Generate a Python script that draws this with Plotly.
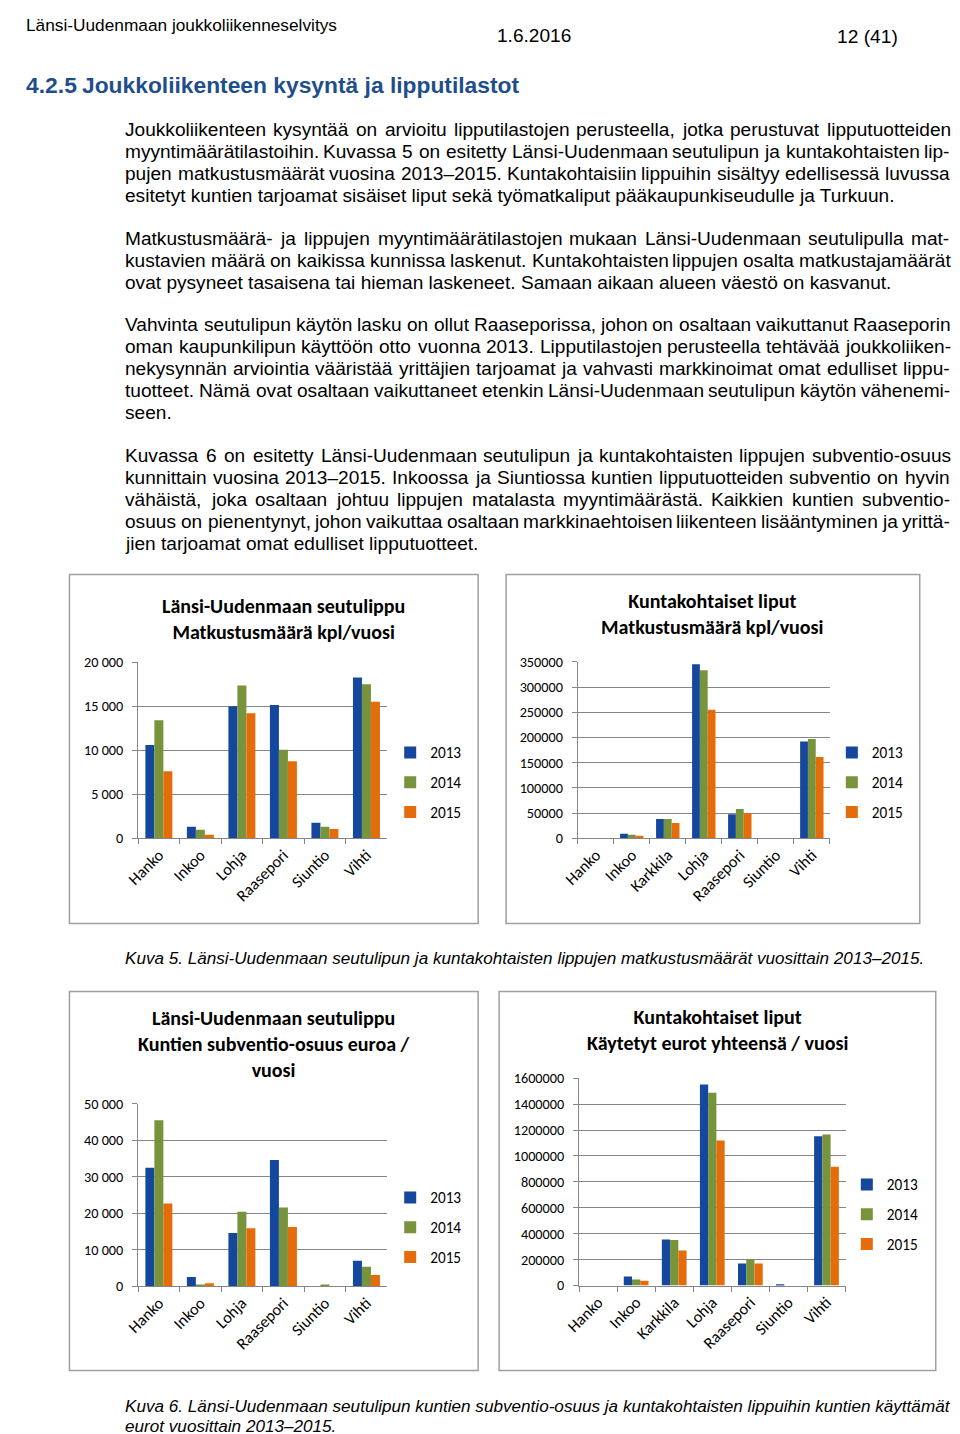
import plotly.graph_objects as go

# The photographed page comes out slightly scaled and offset relative to the
# figure pixels; positions below are in reference-page pixels and get mapped.
SX, SY = 0.984, 0.9875
OX, OY = 23.5, 16.5
W, H = 952, 1440
TXT_PAD = 3  # annotation box padding before the first glyph

# ---- data -------------------------------------------------------------
years = ["2013", "2014", "2015"]
kunnat6 = ["Hanko", "Inkoo", "Lohja", "Raasepori", "Siuntio", "Vihti"]
kunnat7 = ["Hanko", "Inkoo", "Karkkila", "Lohja", "Raasepori", "Siuntio", "Vihti"]

# Länsi-Uudenmaan seutulippu, matkustusmäärä kpl/vuosi
seutu_matkat_2013 = [10600, 1300, 15000, 15150, 1750, 18250]
seutu_matkat_2014 = [13400, 950, 17350, 10050, 1300, 17500]
seutu_matkat_2015 = [7600, 400, 14200, 8750, 1050, 15500]

# Kuntakohtaiset liput, matkustusmäärä kpl/vuosi
kunta_matkat_2013 = [0, 9000, 38000, 345000, 47500, 0, 192000]
kunta_matkat_2014 = [0, 7000, 38000, 333000, 58000, 0, 197000]
kunta_matkat_2015 = [0, 5000, 30000, 255000, 49500, 0, 161000]

# Länsi-Uudenmaan seutulippu, kuntien subventio-osuus euroa / vuosi
subventio_2013 = [32500, 2500, 14600, 34600, 0, 7000]
subventio_2014 = [45500, 500, 20400, 21600, 450, 5300]
subventio_2015 = [22700, 800, 15900, 16200, 0, 3100]

# Kuntakohtaiset liput, käytetyt eurot yhteensä / vuosi
eurot_2013 = [0, 70000, 355000, 1551000, 170000, 3000, 1152000]
eurot_2014 = [0, 46000, 352000, 1487000, 203000, 0, 1165000]
eurot_2015 = [0, 36000, 270000, 1119000, 170000, 0, 916000]

colors = ["#15479c", "#77933c", "#e46c0a"]

# ---- page text ----------------------------------------------------------
paragraphs = [
    (129, [
        "Joukkoliikenteen kysyntää on arvioitu lipputilastojen perusteella, jotka perustuvat lipputuotteiden",
        "myyntimäärätilastoihin. Kuvassa 5 on esitetty Länsi-Uudenmaan seutulipun ja kuntakohtaisten lip-",
        "pujen matkustusmäärät vuosina 2013–2015. Kuntakohtaisiin lippuihin sisältyy edellisessä luvussa",
        "esitetyt kuntien tarjoamat sisäiset liput sekä työmatkaliput pääkaupunkiseudulle ja Turkuun.",
    ]),
    (238, [
        "Matkustusmäärä- ja lippujen myyntimäärätilastojen mukaan Länsi-Uudenmaan seutulipulla mat-",
        "kustavien määrä on kaikissa kunnissa laskenut. Kuntakohtaisten lippujen osalta matkustajamäärät",
        "ovat pysyneet tasaisena tai hieman laskeneet. Samaan aikaan alueen väestö on kasvanut.",
    ]),
    (324, [
        "Vahvinta seutulipun käytön lasku on ollut Raaseporissa, johon on osaltaan vaikuttanut Raaseporin",
        "oman kaupunkilipun käyttöön otto vuonna 2013. Lipputilastojen perusteella tehtävää joukkoliiken-",
        "nekysynnän arviointia vääristää yrittäjien tarjoamat ja vahvasti markkinoimat omat edulliset lippu-",
        "tuotteet. Nämä ovat osaltaan vaikuttaneet etenkin Länsi-Uudenmaan seutulipun käytön vähenemi-",
        "seen.",
    ]),
    (455, [
        "Kuvassa 6 on esitetty Länsi-Uudenmaan seutulipun ja kuntakohtaisten lippujen subventio-osuus",
        "kunnittain vuosina 2013–2015. Inkoossa ja Siuntiossa kuntien lipputuotteiden subventio on hyvin",
        "vähäistä, joka osaltaan johtuu lippujen matalasta myyntimäärästä. Kaikkien kuntien subventio-",
        "osuus on pienentynyt, johon vaikuttaa osaltaan markkinaehtoisen liikenteen lisääntyminen ja yrittä-",
        "jien tarjoamat omat edulliset lipputuotteet.",
    ]),
]
caption5 = "Kuva 5. Länsi-Uudenmaan seutulipun ja kuntakohtaisten lippujen matkustusmäärät vuosittain 2013–2015."
caption6 = ["Kuva 6. Länsi-Uudenmaan seutulipun kuntien subventio-osuus ja kuntakohtaisten lippuihin kuntien käyttämät",
            "eurot vuosittain 2013–2015."]

# Arial / Liberation Sans advance widths (1/1000 em), used to justify lines
ARIAL = {" ": 278, ".": 278, ",": 278, "-": 333, "–": 556, "/": 278, "(": 333, ")": 333,
         "i": 222, "j": 222, "l": 222, "f": 278, "t": 278, "r": 333,
         "c": 500, "k": 500, "s": 500, "v": 500, "x": 500, "y": 500, "z": 500,
         "m": 833, "w": 722,
         "I": 278, "J": 500, "K": 667, "L": 556, "M": 833, "N": 722,
         "R": 722, "S": 667, "T": 611, "U": 722, "V": 667}

BODY = "Liberation Sans, Arial, sans-serif"
CHART = "Carlito, Lato, sans-serif"
body_size = 18.8
left_x, right_x = 126, 950
line_h = 22


def px(x):
    return (x - OX) / SX / W


def py(y):
    return 1 - (y - OY) / SY / H


def fs(size):
    return size / SX


def em(s):
    return sum(ARIAL.get(c, 556) for c in s) / 1000


annotations = []


def text(x, y, s, size, family=BODY, anchor="left", color="black", **kw):
    if anchor == "left":
        x -= TXT_PAD
    elif anchor == "right":
        x += TXT_PAD
    annotations.append(dict(x=px(x), y=py(y), xref="paper", yref="paper", text=s,
                            showarrow=False, xanchor=anchor, yanchor="middle",
                            font=dict(family=family, size=fs(size), color=color), **kw))


for top, lines in paragraphs:
    for i, line in enumerate(lines):
        y = top + i * line_h
        if i == len(lines) - 1:
            text(left_x, y, line, body_size)
            continue
        words = line.split(" ")
        total = sum(em(w) * body_size for w in words)
        gap = (right_x - left_x - total) / (len(words) - 1)
        x = left_x
        for w in words:
            text(x, y, w, body_size)
            x += em(w) * body_size + gap

# header
text(OX + TXT_PAD, OY + 8, "Länsi-Uudenmaan joukkoliikenneselvitys", 17)
text(498, 35, "1.6.2016", 18.8)
text(897, 36, "12 (41)", 18.9, anchor="right")
text(OX + TXT_PAD, 84, "<b>4.2.5</b>", 22.5, color="#1f4e8c")
text(83, 84, "<b>Joukkoliikenteen kysyntä ja lipputilastot</b>", 22.45, color="#1f4e8c")

# captions (italic, sized to the printed line width)
cap_size = 0.986 * 798 / em(caption5)
text(126, 958, "<i>" + caption5 + "</i>", cap_size)
cap6_size = 0.986 * 823 / em(caption6[0])
text(126, 1406, "<i>" + caption6[0] + "</i>", cap6_size)
text(126, 1425, "<i>" + caption6[1] + "</i>", cap6_size)

# ---- charts -----------------------------------------------------------
charts = [
    dict(cats=kunnat6, series=[seutu_matkat_2013, seutu_matkat_2014, seutu_matkat_2015],
         title="<b>Länsi-Uudenmaan seutulippu</b><br><b>Matkustusmäärä kpl/vuosi</b>",
         title_xy=(283, 618), box=(69, 574, 478, 923), plot=(137.7, 661.7, 387, 837.7),
         yr=[0, 20000], dtick=5000, fmt=",d", legend_xy=(390, 782)),
    dict(cats=kunnat7, series=[kunta_matkat_2013, kunta_matkat_2014, kunta_matkat_2015],
         title="<b>Kuntakohtaiset liput</b><br><b>Matkustusmäärä kpl/vuosi</b>",
         title_xy=(713, 613), box=(506, 574, 920, 923), plot=(577.7, 661.3, 830, 837.7),
         yr=[0, 350000], dtick=50000, fmt="d", legend_xy=(832, 782)),
    dict(cats=kunnat6, series=[subventio_2013, subventio_2014, subventio_2015],
         title="<b>Länsi-Uudenmaan seutulippu</b><br><b>Kuntien subventio-osuus euroa /</b><br><b>vuosi</b>",
         title_xy=(274, 1043), box=(69, 991, 478, 1370), plot=(137.7, 1103.3, 387, 1285.7),
         yr=[0, 50000], dtick=10000, fmt=",d", legend_xy=(390, 1227)),
    dict(cats=kunnat7, series=[eurot_2013, eurot_2014, eurot_2015],
         title="<b>Kuntakohtaiset liput</b><br><b>Käytetyt eurot yhteensä / vuosi</b>",
         title_xy=(718, 1030), box=(499, 991, 936, 1370), plot=(579, 1077.7, 845.7, 1285),
         yr=[0, 1600000], dtick=200000, fmt="d", legend_xy=(847, 1214)),
]

fig = go.Figure()
shapes = []
axis_grey = "#868686"
for n, c in enumerate(charts, start=1):
    sfx = "" if n == 1 else str(n)
    leg = "legend" if n == 1 else f"legend{n}"
    for year, vals, col in zip(years, c["series"], colors):
        fig.add_trace(go.Bar(x=c["cats"], y=vals, name=year, marker_color=col,
                             marker_line_width=0, xaxis="x" + sfx, yaxis="y" + sfx,
                             legend=leg, legendgroup=f"{n}-{year}"))
    x0, y0, x1, y1 = c["plot"]
    fig.layout["xaxis" + sfx] = dict(
        domain=[px(x0), px(x1)], anchor="y" + sfx, type="category",
        showline=True, linecolor=axis_grey, linewidth=1, ticks="outside",
        tickson="boundaries", ticklen=5, tickcolor=axis_grey, tickangle=-45,
        showgrid=False, tickfont=dict(family=CHART, size=fs(16), color="black"))
    fig.layout["yaxis" + sfx] = dict(
        domain=[py(y1), py(y0)], anchor="x" + sfx, range=c["yr"], dtick=c["dtick"],
        tickformat=c["fmt"], showgrid=True, gridcolor=axis_grey, gridwidth=1,
        showline=True, linecolor=axis_grey, linewidth=1, ticks="outside",
        ticklen=5, tickcolor=axis_grey, zeroline=False, ticklabelstandoff=6,
        tickfont=dict(family=CHART, size=fs(14), color="black"))
    lx, ly = c["legend_xy"]
    fig.layout[leg] = dict(x=px(lx), y=py(ly), xanchor="left", yanchor="middle",
                           tracegroupgap=7, bgcolor="rgba(0,0,0,0)",
                           font=dict(family=CHART, size=fs(15), color="black"))
    tx, ty = c["title_xy"]
    text(tx, ty, c["title"], 19.7, CHART, anchor="center")
    bx0, by0, bx1, by1 = c["box"]
    shapes.append(dict(type="rect", xref="paper", yref="paper",
                       x0=px(bx0), y0=py(by0), x1=px(bx1), y1=py(by1),
                       line=dict(color="#a0a0a0", width=1.5)))

fig.update_layout(
    width=W, height=H, margin=dict(l=0, r=0, t=0, b=0),
    paper_bgcolor="white", plot_bgcolor="white",
    separators=". ", bargap=0.35, bargroupgap=0,
    annotations=annotations, shapes=shapes,
)

fig.write_html("out.html")
